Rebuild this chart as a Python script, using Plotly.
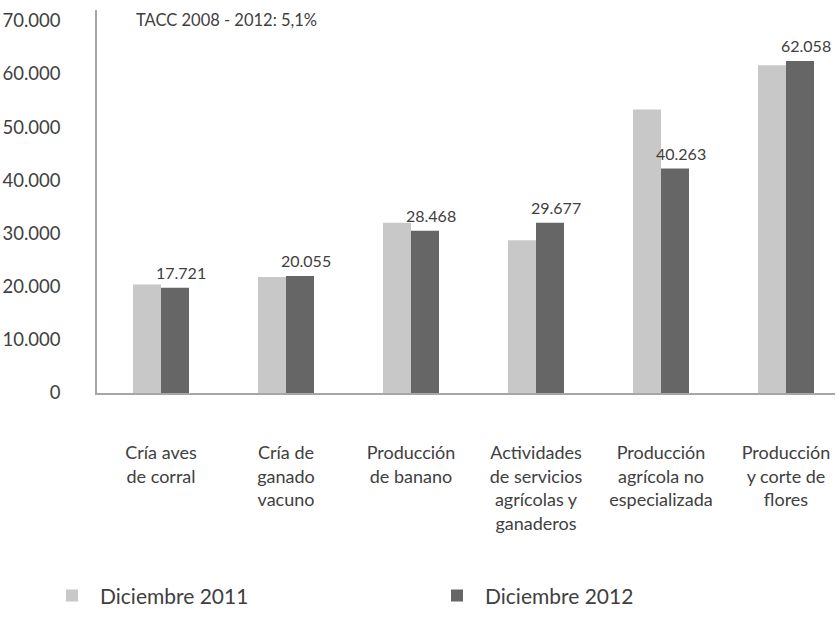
import plotly.graph_objects as go

# Categories (x axis), with line breaks as in the reference
categories = [
    "Cría aves<br>de corral",
    "Cría de<br>ganado<br>vacuno",
    "Producción<br>de banano",
    "Actividades<br>de servicios<br>agrícolas y<br>ganaderos",
    "Producción<br>agrícola no<br>especializada",
    "Producción<br>y corte de<br>flores",
]

# Bar heights
dic_2011 = [20400, 21800, 32000, 28700, 53300, 61600]
dic_2012 = [19800, 22000, 30500, 32000, 42200, 62400]

# Printed data labels above the 2012 bars
labels_2012 = ["17.721", "20.055", "28.468", "29.677", "40.263", "62.058"]

y_ticks = [0, 10000, 20000, 30000, 40000, 50000, 60000, 70000]
y_ticktext = ["0", "10.000", "20.000", "30.000", "40.000", "50.000", "60.000", "70.000"]

FONT = "Lato, 'Open Sans', sans-serif"
TXT = "#404040"

fig = go.Figure()
fig.add_trace(go.Bar(
    x=categories, y=dic_2011, name="Diciembre 2011",
    marker=dict(color="#c8c8c8", line_width=0),
))
fig.add_trace(go.Bar(
    x=categories, y=dic_2012, name="Diciembre 2012",
    marker=dict(color="#666666", line_width=0),
))

# labels sit a little right of the dark bar, like the original
for cat, val, lab in zip(categories, dic_2012, labels_2012):
    fig.add_annotation(
        x=cat, y=val, text=lab, showarrow=False,
        xanchor="center", yanchor="bottom", xshift=20, yshift=4,
        font=dict(size=16, color=TXT, family=FONT),
    )

fig.add_annotation(
    text="TACC 2008 - 2012: 5,1%", xref="paper", yref="paper",
    x=0.05, y=0.975, xanchor="left", yanchor="middle", showarrow=False,
    font=dict(size=16.5, color=TXT, family=FONT),
)

fig.update_layout(
    width=837, height=618,
    margin=dict(l=97, r=2, t=10, b=219),
    paper_bgcolor="white", plot_bgcolor="white",
    barmode="group", bargap=0.552, bargroupgap=0,
    font=dict(family=FONT, color=TXT),
    showlegend=True,
    legend=dict(
        orientation="h", x=-0.0718, xanchor="left",
        y=-0.5296, yanchor="middle",
        itemwidth=46, entrywidth=324,
        font=dict(size=21, color=TXT, family=FONT),
        traceorder="normal",
    ),
    xaxis=dict(
        range=[-0.512, 5.392], showline=True, linecolor="#a6a6a6", linewidth=1.5,
        showgrid=False, ticks="", tickangle=0, ticklabelstandoff=43,
        tickfont=dict(size=18, color=TXT, family=FONT),
    ),
    yaxis=dict(
        range=[0, 72000], showline=True, linecolor="#a6a6a6", linewidth=1.5,
        showgrid=False, zeroline=False, ticks="",
        tickvals=y_ticks, ticktext=y_ticktext, ticklabelstandoff=31,
        tickfont=dict(size=18.5, color=TXT, family=FONT),
    ),
)

# drop the default 8px page margin so the figure fills the window exactly
fig.write_html(
    "out.html",
    config={"displayModeBar": False},
    post_script="document.body.style.margin='0';",
)
